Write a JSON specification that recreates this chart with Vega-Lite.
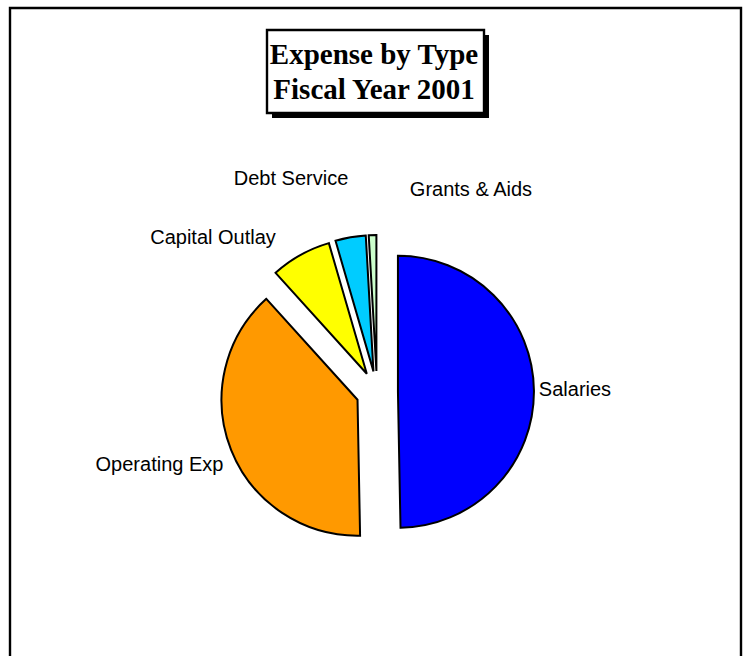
{
  "$schema": "https://vega.github.io/schema/vega-lite/v6.json",
  "width": 731,
  "height": 651,
  "autosize": {"type": "none"},
  "padding": {"left": 10, "top": 8, "right": 9, "bottom": -3},
  "background": "white",
  "config": {"view": {"stroke": "black", "strokeWidth": 2.4}},
  "datasets": {
    "expense": [
      {"type": "Salaries", "rank": 1, "value": 49.7},
      {"type": "Operating Exp", "rank": 2, "value": 38.6},
      {"type": "Capital Outlay", "rank": 3, "value": 7.2},
      {"type": "Debt Service", "rank": 4, "value": 3.6},
      {"type": "Grants & Aids", "rank": 5, "value": 0.9}
    ]
  },
  "resolve": {"scale": {"theta": "independent", "radius": "independent"}},
  "layer": [
    {
      "data": {"name": "expense"},
      "transform": [
        {"stack": "value", "groupby": [], "sort": [{"field": "rank", "order": "ascending"}], "as": ["v0", "v1"]},
        {"calculate": "PI * (datum.v0 + datum.v1) / 100", "as": "mid"},
        {"calculate": "0.154 * sin(datum.mid)", "as": "ex"},
        {"calculate": "0.154 * cos(datum.mid)", "as": "ey"}
      ],
      "mark": {"type": "arc", "outerRadius": 136, "stroke": "black", "strokeWidth": 2},
      "encoding": {
        "theta": {"field": "v0", "type": "quantitative", "stack": null, "scale": {"domain": [0, 100]}},
        "theta2": {"field": "v1"},
        "x": {"field": "ex", "type": "quantitative", "axis": null, "scale": {"domain": [-2.6985, 2.6765], "nice": false, "zero": false}},
        "y": {"field": "ey", "type": "quantitative", "axis": null, "scale": {"domain": [-1.9632, 2.8235], "nice": false, "zero": false}},
        "color": {
          "field": "type",
          "type": "nominal",
          "legend": null,
          "scale": {
            "domain": ["Salaries", "Operating Exp", "Capital Outlay", "Debt Service", "Grants & Aids"],
            "range": ["#0000FF", "#FF9900", "#FFFF00", "#00CCFF", "#CCFFCC"]
          }
        }
      }
    },
    {
      "data": {"name": "expense"},
      "mark": {"type": "text", "font": "Liberation Sans", "fontSize": 20, "align": "center", "baseline": "middle", "color": "black"},
      "encoding": {
        "x": {"datum": 0, "type": "quantitative", "axis": null, "scale": {"domain": [-2.6985, 2.6765], "nice": false, "zero": false}},
        "y": {"datum": 0, "type": "quantitative", "axis": null, "scale": {"domain": [-1.9632, 2.8235], "nice": false, "zero": false}},
        "theta": {"field": "rank", "type": "quantitative", "scale": {"type": "linear", "zero": false, "nice": false, "domain": [1, 2, 3, 4, 5], "range": [1.5583, 4.3866, 5.468, 5.8995, 6.7187]}},
        "radius": {"field": "rank", "type": "quantitative", "scale": {"type": "linear", "zero": false, "nice": false, "domain": [1, 2, 3, 4, 5], "range": [198, 229.6, 225.3, 229.7, 222.8]}},
        "text": {"field": "type", "type": "nominal"}
      }
    },
    {
      "data": {"values": [{}]},
      "mark": {"type": "rect", "fill": "black"},
      "encoding": {
        "x": {"datum": -0.772, "type": "quantitative", "axis": null, "scale": {"domain": [-2.6985, 2.6765], "nice": false, "zero": false}},
        "x2": {"datum": 0.8235},
        "y": {"datum": 2.625, "type": "quantitative", "axis": null, "scale": {"domain": [-1.9632, 2.8235], "nice": false, "zero": false}},
        "y2": {"datum": 2.015}
      }
    },
    {
      "data": {"values": [{}]},
      "mark": {"type": "rect", "fill": "white", "stroke": "black", "strokeWidth": 2.4},
      "encoding": {
        "x": {"datum": -0.8088, "type": "quantitative", "axis": null, "scale": {"domain": [-2.6985, 2.6765], "nice": false, "zero": false}},
        "x2": {"datum": 0.7868},
        "y": {"datum": 2.6618, "type": "quantitative", "axis": null, "scale": {"domain": [-1.9632, 2.8235], "nice": false, "zero": false}},
        "y2": {"datum": 2.0515}
      }
    },
    {
      "data": {"values": [{}]},
      "mark": {
        "type": "text",
        "text": ["Expense by Type", "Fiscal Year 2001"],
        "font": "Liberation Serif",
        "fontWeight": "bold",
        "fontSize": 29,
        "lineHeight": 35,
        "align": "center",
        "baseline": "alphabetic",
        "color": "black"
      },
      "encoding": {
        "x": {"datum": -0.022, "type": "quantitative", "axis": null, "scale": {"domain": [-2.6985, 2.6765], "nice": false, "zero": false}},
        "y": {"datum": 2.4118, "type": "quantitative", "axis": null, "scale": {"domain": [-1.9632, 2.8235], "nice": false, "zero": false}}
      }
    }
  ]
}
